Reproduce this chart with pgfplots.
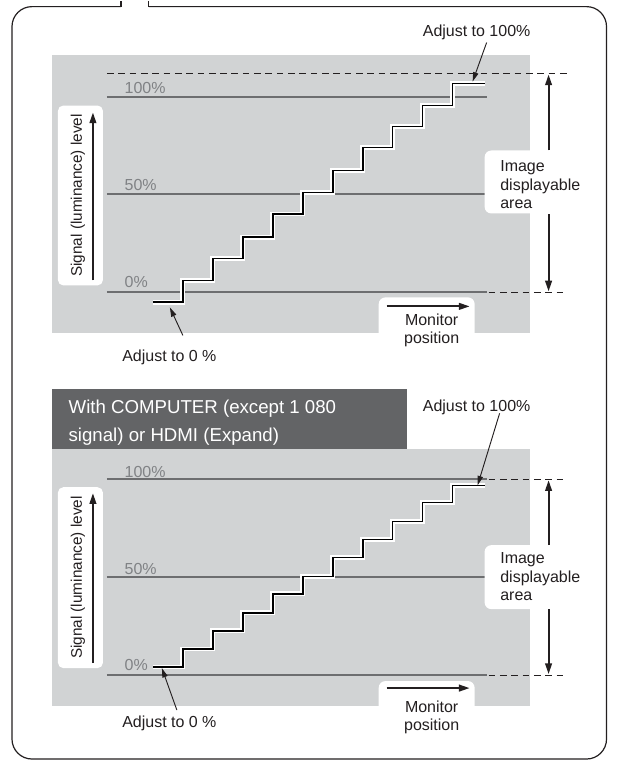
\documentclass[border=0pt]{standalone}
\usepackage{pgfplots}
\pgfplotsset{compat=1.18}
\usepackage{pgfplotstable}
\usepackage{fontspec}
\setmainfont{Liberation Sans}
\usetikzlibrary{arrows.meta}
\definecolor{panelgray}{RGB}{209,211,212}
\definecolor{titlegray}{RGB}{99,100,102}
\definecolor{linegray}{RGB}{109,110,112}
\definecolor{labelgray}{RGB}{128,130,133}
\definecolor{framecol}{RGB}{35,31,32}
\newcommand\fs{\fontsize{12}{14}\selectfont}
\newcommand\fss{\fontsize{11.5}{14}\selectfont}
\newcommand\ftitle{\fontsize{14}{20}\selectfont}
\pgfplotstableread{
x y
0 -5
1 6.1
2 17.3
3 28.2
4 40.0
5 51.0
6 62.2
7 74.0
8 84.7
9 95.4
10 106.6
11.07 106.6
}\topstairs
\pgfplotstableread{
x y
0 4.1
1 13.3
2 22.6
3 31.8
4 41.5
5 50.3
6 60.0
7 69.2
8 78.5
9 88.2
10 96.9
11.07 96.9
}\botstairs
\tikzset{
  bigarrow/.style={-{Triangle[length=8pt,width=5pt]}, line width=1.4pt, framecol},
  smallarrow/.style={-{Triangle[length=7pt,width=4pt]}, line width=0.7pt, framecol},
  dashref/.style={framecol, line width=0.7pt, dash pattern=on 5pt off 3.5pt},
}
\begin{document}
\begin{tikzpicture}
% ---------------- top panel ----------------
\begin{axis}[at={(39pt,-40.5pt)}, anchor=north west,
  width=358.5pt, height=209.25pt, scale only axis,
  xmin=-3.3667, xmax=12.5667, ymin=-20.92, ymax=121.43,
  hide axis, clip=false]
\fill[panelgray] (rel axis cs:0,0) rectangle (rel axis cs:1,1);
\addplot[linegray, line width=1.5pt] coordinates {(-1.533,100) (11.133,100)};
\addplot[linegray, line width=1.5pt] coordinates {(-1.533,50) (11.133,50)};
\addplot[linegray, line width=1.5pt] coordinates {(-1.533,0) (11.133,0)};
\addplot[dashref] coordinates {(-1.533,111.73) (13.8,111.73)};
\addplot[dashref] coordinates {(11.2,0) (13.8,0)};
\addplot[white, line width=3.6pt, const plot] table[x=x,y=y] {\topstairs};
\addplot[black, line width=1.2pt, const plot] table[x=x,y=y] {\topstairs};
\end{axis}
% ---------------- bottom panel ----------------
\begin{axis}[at={(39pt,-336.75pt)}, anchor=north west,
  width=358.5pt, height=192.75pt, scale only axis,
  xmin=-3.3667, xmax=12.5667, ymin=-15.816, ymax=115.306,
  hide axis, clip=false]
\fill[panelgray] (rel axis cs:0,0) rectangle (rel axis cs:1,1);
\addplot[linegray, line width=1.5pt] coordinates {(-1.533,100) (11.133,100)};
\addplot[linegray, line width=1.5pt] coordinates {(-1.533,50) (11.133,50)};
\addplot[linegray, line width=1.5pt] coordinates {(-1.533,0) (11.133,0)};
\addplot[dashref] coordinates {(11.2,100) (13.8,100)};
\addplot[dashref] coordinates {(11.2,0) (13.8,0)};
\addplot[white, line width=3.6pt, const plot] table[x=x,y=y] {\botstairs};
\addplot[black, line width=1.2pt, const plot] table[x=x,y=y] {\botstairs};
\end{axis}
% ---------------- frame and annotations (pixel coordinates) ----------------
\begin{axis}[at={(0pt,0pt)}, anchor=north west,
  width=462.75pt, height=573pt, scale only axis,
  xmin=0, xmax=617, ymin=0, ymax=764, y dir=reverse,
  hide axis, clip=false]
\path (0,0) rectangle (617,764);
\draw[framecol, line width=0.9pt, rounded corners=15pt]
  (121,6) -- (12,6) -- (12,759) -- (607,759) -- (607,6) -- (149,6);
\draw[framecol, line width=0.9pt] (121,6) -- (121,0);
\draw[framecol, line width=0.9pt] (149,6) -- (149,0);
% ===== top panel annotations =====
\node[anchor=base, font=\fs, text=framecol] at (477,36) {Adjust to 100\%};
\draw[smallarrow] (487,42) -- (473,81);
\node[anchor=base, font=\fs, text=framecol] at (169.5,361) {Adjust to 0 \%};
\draw[smallarrow] (183,335) -- (170,307);
\fill[white, rounded corners=4pt] (58,105) rectangle (103,285);
\node[rotate=90, anchor=base, font=\fss, text=framecol] at (82,195) {Signal (luminance) level};
\draw[bigarrow] (93,280) -- (93,112);
\node[anchor=base west, font=\fs, text=labelgray] at (120,93) {100\%};
\node[anchor=base west, font=\fs, text=labelgray] at (120,190) {50\%};
\node[anchor=base west, font=\fs, text=labelgray] at (120,287) {0\%};
\fill[white, rounded corners=5pt] (485,150) rectangle (540,213);
\node[anchor=base west, font=\fs, text=framecol] at (496,171) {Image};
\node[anchor=base west, font=\fs, text=framecol] at (496,190) {displayable};
\node[anchor=base west, font=\fs, text=framecol] at (496,208) {area};
\draw[bigarrow] (549,150) -- (549,74);
\draw[bigarrow] (549,214) -- (549,291);
\fill[white, rounded corners=5pt] (379,297) rectangle (475,345);
\draw[bigarrow] (387,306) -- (470,306);
\node[anchor=base, font=\fs, text=framecol] at (432,325) {Monitor};
\node[anchor=base, font=\fs, text=framecol] at (432,343) {position};
% ===== bottom panel annotations =====
\fill[titlegray] (52,389) rectangle (407,449);
\node[anchor=base west, font=\ftitle, text=white] at (64,413) {With COMPUTER (except 1 080};
\node[anchor=base west, font=\ftitle, text=white] at (64,441) {signal) or HDMI (Expand)};
\node[anchor=base, font=\fs, text=framecol] at (477,411) {Adjust to 100\%};
\draw[smallarrow] (500,413) -- (478,485);
\node[anchor=base, font=\fs, text=framecol] at (169.5,727) {Adjust to 0 \%};
\draw[smallarrow] (177,710) -- (162,668);
\fill[white, rounded corners=4pt] (58,487) rectangle (103,668);
\node[rotate=90, anchor=base, font=\fss, text=framecol] at (82,577.5) {Signal (luminance) level};
\draw[bigarrow] (93,663) -- (93,493);
\node[anchor=base west, font=\fs, text=labelgray] at (120,477) {100\%};
\node[anchor=base west, font=\fs, text=labelgray] at (120,574) {50\%};
\node[anchor=base west, font=\fs, text=labelgray] at (120,670) {0\%};
\fill[white, rounded corners=5pt] (485,545) rectangle (540,609);
\node[anchor=base west, font=\fs, text=framecol] at (496,563) {Image};
\node[anchor=base west, font=\fs, text=framecol] at (496,582) {displayable};
\node[anchor=base west, font=\fs, text=framecol] at (496,600) {area};
\draw[bigarrow] (549,545) -- (549,480);
\draw[bigarrow] (549,609) -- (549,674);
\fill[white, rounded corners=5pt] (379,681) rectangle (475,730);
\draw[bigarrow] (387,688) -- (470,688);
\node[anchor=base, font=\fs, text=framecol] at (432,712) {Monitor};
\node[anchor=base, font=\fs, text=framecol] at (432,730) {position};
\end{axis}
\end{tikzpicture}
\end{document}
